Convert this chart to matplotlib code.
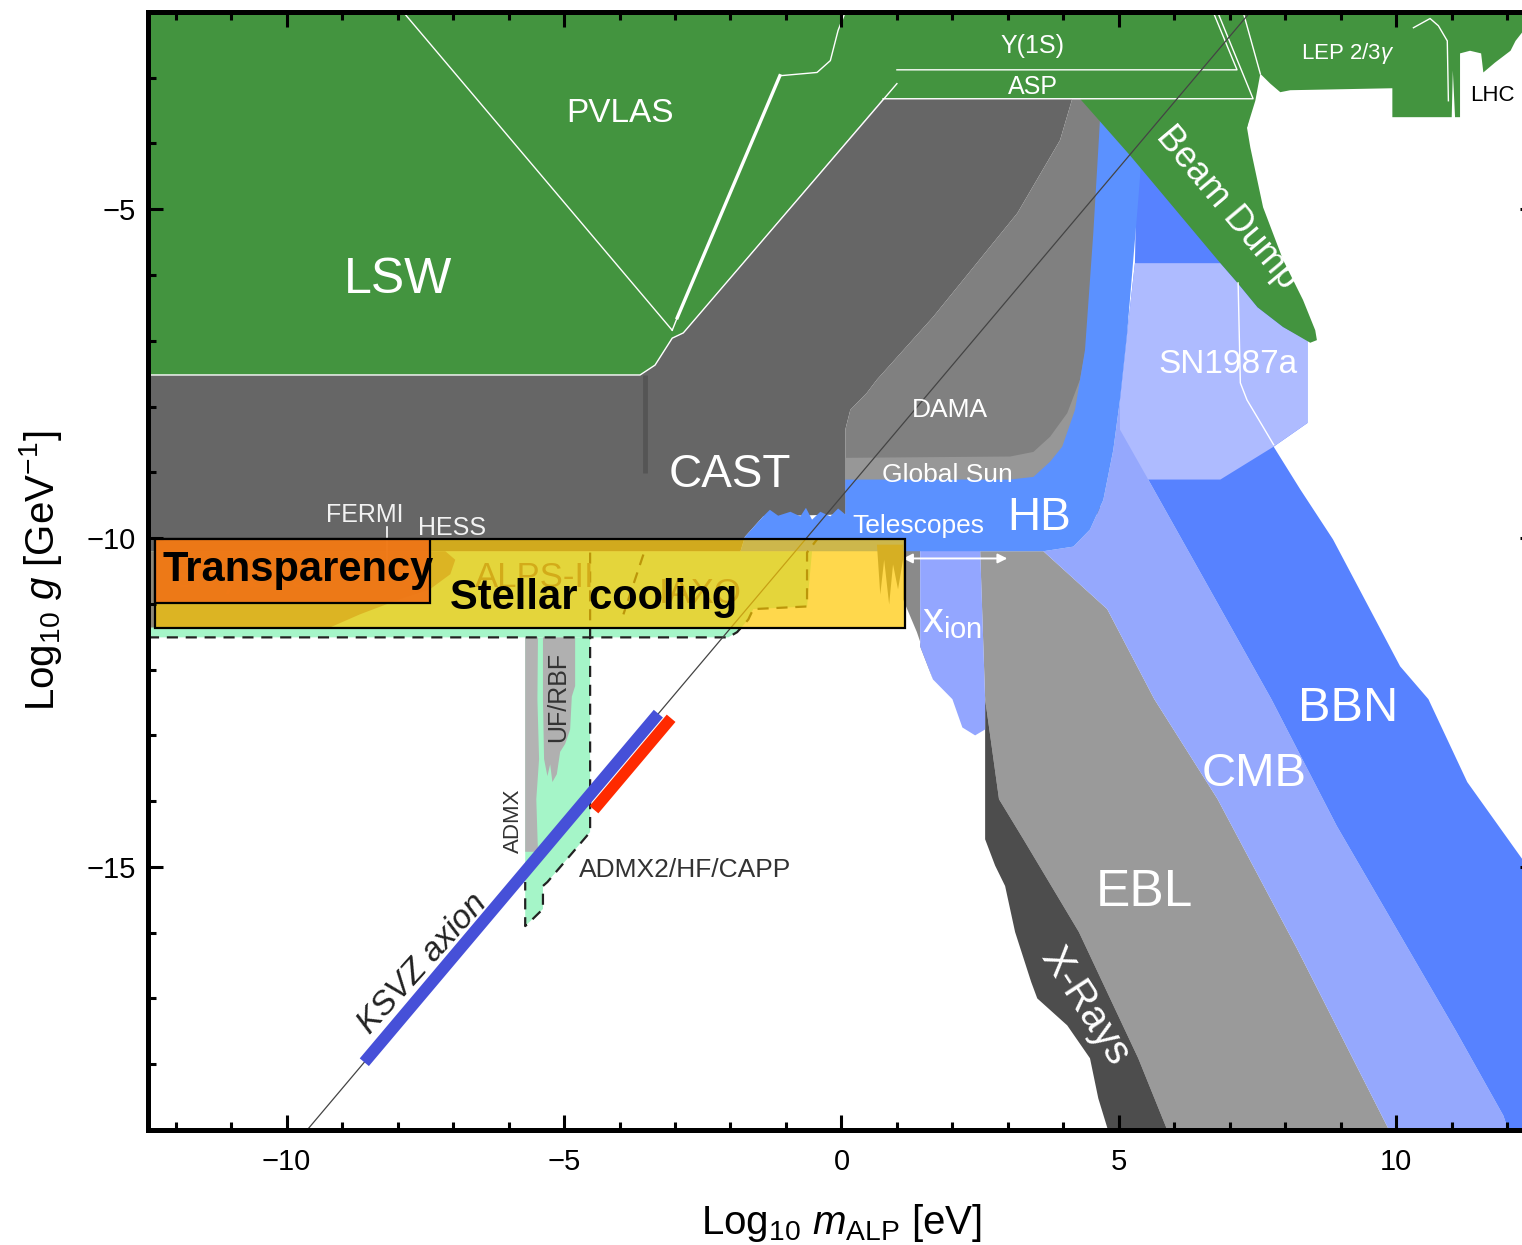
import matplotlib
matplotlib.use('Agg')
import matplotlib.pyplot as plt
from matplotlib.patches import Polygon, Rectangle
from matplotlib.ticker import MultipleLocator

plt.rcParams['font.family'] = ['Liberation Sans', 'DejaVu Sans']
plt.rcParams['mathtext.fontset'] = 'custom'
plt.rcParams['mathtext.rm'] = 'Liberation Sans'
plt.rcParams['mathtext.it'] = 'Liberation Sans:italic'
plt.rcParams['mathtext.bf'] = 'Liberation Sans:bold'

# region outlines as (log10 m_ALP [eV], log10 g [GeV^-1])
green_top = [(-12.5, -2.0), (12.5, -2.0), (12.5, -2.28), (12.27, -2.31), (12.15, -2.44),
             (12.06, -2.59), (11.78, -2.77), (11.57, -2.92), (11.53, -2.63), (11.33, -2.59),
             (11.15, -2.63), (11.15, -3.60), (11.06, -3.60), (11.02, -2.89), (11.00, -3.60),
             (10.92, -3.60), (9.93, -3.60), (9.93, -3.16), (8.09, -3.19), (7.91, -3.22),
             (7.73, -3.09), (7.55, -2.94), (7.46, -3.35), (7.31, -3.76), (7.19, -3.32),
             (0.75, -3.32), (-2.85, -6.88), (-3.05, -6.96), (-3.36, -7.37), (-3.63, -7.52),
             (-12.5, -7.52)]
beam_dump = [(4.30, -3.32), (7.42, -3.32), (7.31, -3.76), (7.37, -4.06), (7.60, -4.97),
             (7.96, -5.77), (8.32, -6.38), (8.54, -6.84), (8.57, -6.99), (8.45, -7.03),
             (7.96, -6.79), (7.50, -6.49), (7.13, -6.11), (6.78, -5.77), (5.20, -4.18)]
cast = [(-12.5, -7.52), (-3.63, -7.52), (-3.36, -7.37), (-3.05, -6.96), (-2.85, -6.88),
        (0.75, -3.32), (4.16, -3.32), (3.94, -3.95), (3.17, -5.06), (1.65, -6.64),
        (0.64, -7.59), (0.46, -7.79), (0.16, -8.05), (0.07, -8.35), (0.07, -9.64),
        (-1.41, -9.67), (-1.74, -9.98), (-1.82, -10.20), (-12.5, -10.20)]
dama = [(0.07, -9.64), (0.07, -8.35), (0.16, -8.05), (0.46, -7.79), (0.64, -7.59),
        (1.65, -6.64), (3.17, -5.06), (3.94, -3.95), (4.16, -3.32), (4.66, -3.32),
        (4.66, -9.64)]
global_sun = [(0.07, -8.78), (3.04, -8.76), (3.46, -8.69), (3.76, -8.46), (4.07, -8.10),
              (4.30, -7.59), (4.57, -6.38), (4.66, -6.38), (4.66, -9.49), (0.07, -9.49)]
hb = [(-1.82, -10.20), (-1.74, -9.98), (-1.41, -9.67), (-1.29, -9.57), (-1.14, -9.66),
      (-0.92, -9.60), (-0.74, -9.67), (-0.64, -9.54), (-0.53, -9.72), (-0.38, -9.60),
      (-0.20, -9.67), (-0.06, -9.55), (0.07, -9.64), (0.07, -9.11), (3.04, -9.11),
      (3.46, -9.07), (3.76, -8.84), (3.98, -8.61), (4.21, -8.05), (4.39, -7.14),
      (4.54, -5.36), (4.66, -3.65), (4.66, -3.32), (5.39, -3.32), (5.39, -4.41),
      (5.35, -4.86), (5.15, -6.88), (5.02, -7.90), (4.90, -8.66), (4.72, -9.42),
      (4.48, -9.87), (4.18, -10.13), (3.64, -10.20)]
bbn = [(5.33, -4.10), (7.01, -4.10), (8.27, -6.38), (8.40, -6.99), (8.40, -8.25),
       (7.79, -8.61), (8.27, -9.26), (8.86, -10.02), (10.07, -11.95), (10.58, -12.45),
       (11.28, -13.71), (12.27, -14.88), (12.68, -15.41), (12.68, -19.1), (12.06, -19.1),
       (11.93, -18.78), (11.08, -17.50), (8.93, -14.38), (7.75, -12.45), (5.53, -9.11),
       (5.02, -7.90), (5.15, -6.88), (5.29, -5.82)]
cmb = [(3.64, -10.20), (4.18, -10.13), (4.48, -9.87), (4.72, -9.42), (4.90, -8.66),
       (5.02, -7.90), (5.53, -9.11), (7.75, -12.45), (8.93, -14.38), (11.08, -17.50),
       (11.93, -18.78), (12.06, -19.1), (9.93, -19.1), (8.21, -16.24), (6.78, -13.97),
       (5.64, -12.45), (4.79, -11.08)]
ebl = [(2.50, -10.20), (3.64, -10.20), (4.79, -11.08), (5.64, -12.45), (6.78, -13.97),
       (8.21, -16.24), (9.93, -19.1), (5.92, -19.1), (5.35, -17.91), (4.28, -15.99),
       (3.28, -14.58), (2.84, -13.97), (2.59, -12.45)]
xrays = [(2.59, -12.45), (2.84, -13.97), (3.28, -14.58), (4.28, -15.99), (5.35, -17.91),
         (5.92, -19.1), (4.84, -19.1), (4.63, -18.52), (4.48, -17.91), (4.07, -17.41),
         (3.53, -17.00), (3.42, -16.75), (3.13, -15.99), (2.95, -15.29), (2.77, -14.98),
         (2.59, -14.58), (2.59, -12.91)]
xion = [(1.42, -10.15), (2.50, -10.15), (2.59, -12.45), (2.59, -12.91), (2.41, -13.00),
        (2.18, -12.88), (2.00, -12.45), (1.65, -12.15), (1.42, -11.65)]
wedge = [(1.11, -10.15), (1.42, -10.15), (1.42, -11.65), (1.65, -12.15), (1.36, -11.43),
         (1.11, -10.93)]
sn1987a = [(5.29, -5.82), (6.83, -5.82), (7.13, -6.11), (7.50, -6.49), (7.96, -6.79),
           (8.40, -6.99), (8.40, -8.25), (7.79, -8.61), (6.83, -9.11), (5.53, -9.11),
           (5.02, -8.35), (5.02, -7.90), (5.15, -6.88)]
mint_band = [(-12.5, -10.20), (-0.53, -10.20), (-0.62, -11.04), (-1.59, -11.08),
             (-1.68, -11.24), (-1.88, -11.43), (-2.04, -11.51), (-12.5, -11.51)]
mint_column = [(-5.70, -11.51), (-4.53, -11.51), (-4.53, -14.47), (-5.30, -15.23),
               (-5.38, -15.29), (-5.38, -15.64), (-5.70, -15.90)]
admx = [(-5.70, -11.51), (-5.47, -11.51), (-5.48, -12.45), (-5.45, -13.36), (-5.50, -13.97),
        (-5.47, -14.77), (-5.70, -14.77)]
uf_rbf = [(-5.38, -11.51), (-4.80, -11.51), (-4.80, -12.25), (-4.86, -12.41), (-4.89, -12.91),
          (-4.98, -13.13), (-5.07, -13.25), (-5.13, -13.59), (-5.21, -13.71), (-5.25, -13.44),
          (-5.30, -13.62), (-5.36, -13.36), (-5.38, -12.45)]
hint = [(-12.5, -10.20), (-7.14, -10.20), (-6.96, -10.33), (-7.05, -10.55), (-7.42, -10.78),
        (-7.96, -10.93), (-8.68, -11.16), (-9.22, -11.36), (-12.5, -11.36)]
spikes = [(0.64, -10.10), (0.70, -10.86), (0.77, -10.33), (0.86, -11.01), (0.93, -10.40),
          (1.02, -10.78), (1.11, -10.33), (1.11, -10.10)]

# outlines
dash_band = [(-12.5, -11.51), (-2.04, -11.51), (-1.88, -11.43), (-1.68, -11.24), (-1.59, -11.08),
             (-0.62, -11.04), (-0.62, -10.22), (-0.44, -10.02)]
dash_column = [(-4.53, -10.22), (-4.53, -14.47), (-5.30, -15.23), (-5.38, -15.29),
               (-5.38, -15.64), (-5.61, -15.83), (-5.70, -15.90), (-5.70, -15.23)]
dash_iaxo = [(-3.57, -10.25), (-3.93, -11.16)]
w_pvlas_left = [(-7.90, -2.0), (-3.05, -6.84)]
w_pvlas_right = [(-3.05, -6.84), (-2.96, -6.65), (-1.11, -2.97), (-0.44, -2.92), (-0.20, -2.74),
                 (-0.06, -2.28), (0.07, -2.0)]
w_pvlas_thick = [(-2.96, -6.65), (-1.11, -2.97)]
w_cast = [(-12.5, -7.52), (-3.63, -7.52), (-3.36, -7.37), (-3.05, -6.96), (-2.85, -6.88),
          (1.00, -3.09)]
w_asp = [(0.75, -3.32), (7.42, -3.32), (6.78, -2.0)]
w_y1s = [(1.00, -2.88), (7.13, -2.88), (6.70, -2.0)]
w_lep = [(10.31, -2.24), (10.61, -2.10), (10.76, -2.21), (10.92, -2.44), (10.94, -3.35)]
w_notch = [(7.24, -2.0), (7.55, -2.94)]
w_sn = [(7.15, -6.12), (7.19, -7.64), (7.31, -7.90), (7.60, -8.31), (7.79, -8.58)]
cast_bar = [(-3.54, -7.52), (-3.54, -9.01)]
fermi_tick = [(-8.19, -9.83), (-8.19, -10.63)]
xion_arrow = [(1.11, -10.31), (2.99, -10.31)]

# KSVZ axion band
ksvz_line = [(-9.7, -19.07), (7.4, -1.97)]
ksvz_blue = [(-8.60, -17.97), (-3.30, -12.67)]
ksvz_red = [(-4.46, -14.13), (-3.07, -12.74)]

# hint boxes (x0, y0, x1, y1)
stellar_box = (-12.37, -11.37, 1.15, -10.02)
transp_box = (-12.37, -10.98, -7.42, -10.02)

GREEN = '#43943f'

fig = plt.figure(figsize=(15.22, 12.45), dpi=100)
ax = fig.add_axes([0.0972, 0.0924, 0.9113, 0.8980])
ax.set_xlim(-12.5, 12.5)
ax.set_ylim(-19, -2)


def region(pts, color, z, **kw):
    ax.add_patch(Polygon(pts, closed=True, facecolor=color, edgecolor='none', zorder=z, **kw))


def path(pts, **kw):
    xs, ys = zip(*pts)
    ax.plot(xs, ys, **kw)


region(green_top, GREEN, 1.0)
region(mint_band, '#a5f5c8', 1.05)
region(mint_column, '#a5f5c8', 1.05)
region(cast, '#666666', 1.1)
region(dama, '#808080', 1.2)
region(global_sun, '#979797', 1.25)
region(ebl, '#9a9a9a', 1.3)
region(xrays, '#4d4d4d', 1.35)
region(wedge, '#8a8a8a', 1.35)
region(xion, '#93a6ff', 1.35)
region(cmb, '#95a8fd', 1.4)
region(bbn, '#5782ff', 1.5)
region(sn1987a, '#aebbff', 1.6)
region(hb, '#5b91ff', 1.7)
region(beam_dump, GREEN, 1.8)
region(admx, '#b3b3b3', 1.85)
region(uf_rbf, '#b0b0b0', 1.85)
region(hint, '#8c8778', 1.85)
region(spikes, '#777777', 1.85)

wl = dict(color='white', lw=1.0, zorder=2.0, solid_joinstyle='round')
for pts in (w_pvlas_left, w_pvlas_right, w_cast, w_asp, w_y1s, w_lep, w_notch, w_sn):
    path(pts, **wl)
path(w_pvlas_thick, color='white', lw=2.4, zorder=2.0)
path(cast_bar, color='#555555', lw=3.5, zorder=2.0, solid_capstyle='butt')
path(fermi_tick, color='white', lw=1.2, zorder=2.0)
ax.annotate('', xy=xion_arrow[1], xytext=xion_arrow[0],
            arrowprops=dict(arrowstyle='<|-|>', color='white', lw=1.4,
                            mutation_scale=14, shrinkA=0, shrinkB=0), zorder=2.0)

dl = dict(color='#222222', lw=1.6, ls=(0, (5, 3.5)), zorder=2.05)
for pts in (dash_band, dash_column, dash_iaxo):
    path(pts, **dl)

# labels sitting under the hint boxes
ax.text(-5.52, -10.75, 'ALPS-II', fontsize=25, color='#6e6a55', ha='center', va='baseline', zorder=2.1)
ax.text(-2.55, -10.98, 'IAXO', fontsize=25, color='#6e6a55', ha='center', va='baseline', zorder=2.1)
ax.text(-10.75, -10.74, r'SN $\gamma$ burst', fontsize=22, color='#f4a060', ha='center',
        va='baseline', zorder=2.1)

path(ksvz_line, color='#444444', lw=0.9, zorder=2.2)

sx0, sy0, sx1, sy1 = stellar_box
ax.add_patch(Rectangle((sx0, sy0), sx1 - sx0, sy1 - sy0, facecolor=(1.0, 0.784, 0.0, 0.7),
                       edgecolor='black', lw=1.6, zorder=3))
tx0, ty0, tx1, ty1 = transp_box
ax.add_patch(Rectangle((tx0, ty0), tx1 - tx0, ty1 - ty0, facecolor=(0.937, 0.455, 0.09, 0.92),
                       edgecolor='black', lw=1.6, zorder=3.1))

path(ksvz_blue, color='#4650d8', lw=8.6, solid_capstyle='butt', zorder=5)
path(ksvz_red, color='#ff2a00', lw=8.2, solid_capstyle='butt', zorder=5.1)

# region names
white_labels = [
    ('LSW', -7.99, -6.27, 36), ('PVLAS', -4.00, -3.68, 24), ('Y(1S)', 3.45, -2.63, 18),
    ('ASP', 3.45, -3.24, 18), (r'LEP 2/3$\gamma$', 9.13, -2.71, 16), ('SN1987a', 6.96, -7.49, 24),
    ('CAST', -2.01, -9.23, 33), ('DAMA', 1.96, -8.16, 19), ('Global Sun', 1.91, -9.14, 19),
    ('HB', 3.56, -9.87, 33), ('Telescopes', 1.38, -9.92, 19), ('BBN', 9.13, -12.78, 35),
    ('CMB', 7.44, -13.77, 34), ('EBL', 5.47, -15.59, 37),
    ('FERMI', -8.60, -9.76, 18), ('HESS', -7.01, -9.95, 18),
]
for txt, x, y, fs in white_labels:
    col = '#f2f2f2' if txt in ('FERMI', 'HESS') else 'white'
    ax.text(x, y, txt, fontsize=fs, color=col, ha='center', va='baseline', zorder=6)

ax.text(1.45, -11.43, r'$\mathrm{x}_\mathrm{ion}$', fontsize=30, color='white', ha='left',
        va='baseline', zorder=6)
ax.text(6.94, -4.97, 'Beam Dump', fontsize=26, color='white', rotation=-50,
        ha='center', va='center', rotation_mode='anchor', zorder=6)
ax.text(4.39, -17.12, 'X-Rays', fontsize=29, color='white', rotation=-57,
        ha='center', va='center', rotation_mode='anchor', zorder=6)
ax.text(11.73, -3.35, 'LHC', fontsize=16, color='black', ha='center', va='baseline', zorder=6)
ax.text(-5.92, -14.30, 'ADMX', fontsize=16, color='#333333', rotation=90,
        ha='center', va='center', zorder=6)
ax.text(-5.10, -12.41, 'UF/RBF', fontsize=18, color='#333333', rotation=90,
        ha='center', va='center', zorder=6)
ax.text(-2.82, -15.15, 'ADMX2/HF/CAPP', fontsize=19, color='#333333', ha='center',
        va='baseline', zorder=6)
ax.text(-7.55, -16.47, 'KSVZ axion', fontsize=24, color='#222222', style='italic', rotation=48,
        ha='center', va='center', rotation_mode='anchor', zorder=6)

ax.text(-12.23, -10.66, 'Transparency', fontsize=30, fontweight='bold', color='black',
        ha='left', va='baseline', zorder=6)
ax.text(-7.05, -11.08, 'Stellar cooling', fontsize=30, fontweight='bold', color='black',
        ha='left', va='baseline', zorder=6)

# axes styling
ax.xaxis.set_major_locator(MultipleLocator(5))
ax.xaxis.set_minor_locator(MultipleLocator(1))
ax.yaxis.set_major_locator(MultipleLocator(5))
ax.yaxis.set_minor_locator(MultipleLocator(1))
ax.tick_params(which='both', direction='in', top=True, right=True, width=2.2, color='black')
ax.tick_params(which='major', length=10.5, labelsize=21)
ax.tick_params(which='minor', length=6)
ax.tick_params(axis='x', which='major', pad=13)
ax.tick_params(axis='y', which='major', pad=9)
for s in ax.spines.values():
    s.set_linewidth(3.6)
    s.set_zorder(30)
ax.xaxis.set_zorder(30)
ax.yaxis.set_zorder(30)

ax.set_xlabel(r'Log$_{10}$ $m_{\mathrm{ALP}}$ [eV]', fontsize=29, labelpad=19)
ax.set_ylabel(r'Log$_{10}$ $g$ [GeV$^{-1}$]', fontsize=29, labelpad=16)

fig.savefig('out.png', dpi=100)
